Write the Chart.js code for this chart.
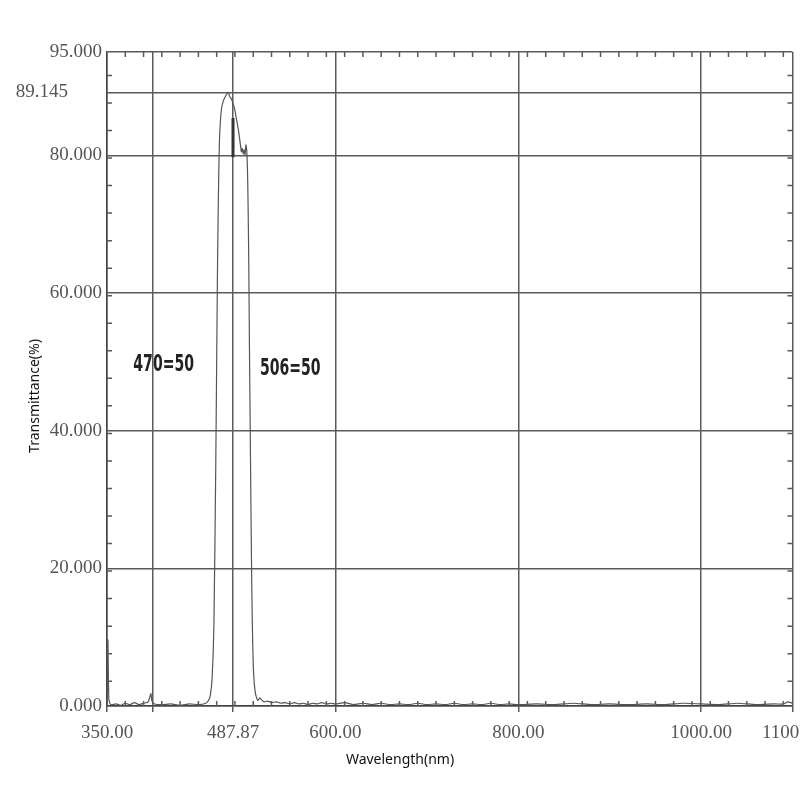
<!DOCTYPE html>
<html>
<head>
<meta charset="utf-8">
<script src="https://cdn.jsdelivr.net/npm/chart.js@4"></script>
<style>
  html, body { margin: 0; padding: 0; background: #fff; overflow: hidden; }
  #wrap { width: 800px; height: 800px; overflow: hidden; }
</style>
</head>
<body>
<div id="wrap"><canvas id="spec" width="833" height="800"></canvas></div>
<script>
// spectrum
const wavelength = [350, 351, 352, 354, 360, 365, 370, 375, 380, 385, 390, 395, 398, 399, 402, 410, 420, 430, 440, 450, 458, 461, 463,
  465, 467, 469, 470, 471, 472, 473, 475, 477, 479, 481, 483, 484, 486, 488, 490, 492, 494, 496, 497, 498, 499, 500, 501, 502, 503,
  504, 505, 506, 507, 508, 509, 510, 511, 512, 513, 515, 517, 519, 522, 526, 530, 535, 540, 545, 550, 555, 560, 565, 570, 575, 580,
  585, 590, 595, 600, 610, 620, 630, 640, 650, 660, 670, 680, 690, 700, 710, 720, 730, 740, 750, 760, 770, 780, 790, 800, 820, 840,
  860, 880, 900, 920, 940, 960, 980, 1000, 1020, 1040, 1060, 1080, 1090, 1095, 1100];
const transmittance = [0.2, 9.6, 1.0, 0.2, 0.3, 0.1, 0.4, 0.2, 0.5, 0.2, 0.4, 0.6, 1.8, 0.8, 0.3, 0.2, 0.3, 0.1, 0.3, 0.2, 0.4, 0.8, 1.5,
  4, 12, 35, 50, 65, 75, 82, 86.5, 87.8, 88.4, 88.9, 89.145, 88.6, 88.2, 87.5, 86.5, 85, 83.5, 81.5, 80.5, 81, 80.2, 80.8, 80.1, 81.5, 80.5,
  76, 66, 50, 36, 22, 12, 6, 3.5, 2.2, 1.5, 0.8, 1.2, 0.9, 0.6, 0.7, 0.5, 0.6, 0.4, 0.5, 0.3, 0.5, 0.3, 0.4, 0.2, 0.4, 0.3,
  0.5, 0.3, 0.4, 0.3, 0.5, 0.2, 0.4, 0.2, 0.4, 0.2, 0.3, 0.2, 0.4, 0.2, 0.3, 0.2, 0.4, 0.2, 0.3, 0.2, 0.4, 0.2, 0.3, 0.2, 0.3, 0.2,
  0.4, 0.2, 0.3, 0.2, 0.3, 0.2, 0.4, 0.3, 0.2, 0.4, 0.2, 0.3, 0.3, 0.6, 0.4];

// cursor mark near the peak
const cursorX = [487.87, 487.87];
const cursorY = [85.4, 79.7];

const xTicks = [350, 400, 487.87, 600, 800, 1000, 1100];
const xTickLabels = ['350.00', '', '487.87', '600.00', '800.00', '1000.00', '1100.00'];
const yTicks = [0, 20, 40, 60, 80, 89.145, 95];
const yTickLabels = ['0.000', '20.000', '40.000', '60.000', '80.000', '89.145', '95.000'];

const notes = [
  { text: '470=50', x: 412, y: 49.6 },
  { text: '506=50', x: 550.5, y: 49.0 }
];

const gridCol = '#5a5a5a';
const tickFont = { family: '"Liberation Serif", serif', size: 19 };

const extras = {
  id: 'extras',
  afterDraw(chart) {
    const { ctx, chartArea: a, scales: { x, y } } = chart;
    ctx.save();
    // small inside ticks
    ctx.strokeStyle = gridCol;
    ctx.lineWidth = 1.5;
    ctx.beginPath();
    for (let v = 370; v < 1100; v += 20) {
      const px = x.getPixelForValue(v);
      ctx.moveTo(px, a.top); ctx.lineTo(px, a.top + 5);
      ctx.moveTo(px, a.bottom); ctx.lineTo(px, a.bottom - 5);
    }
    for (let v = 3.6; v < 95; v += 4) {
      const py = y.getPixelForValue(v);
      ctx.moveTo(a.left, py); ctx.lineTo(a.left + 5, py);
      ctx.moveTo(a.right, py); ctx.lineTo(a.right - 5, py);
    }
    ctx.stroke();

    // peak label sits further left than the others
    ctx.fillStyle = '#555';
    ctx.font = '19px "Liberation Serif", serif';
    ctx.textAlign = 'right';
    ctx.textBaseline = 'middle';
    ctx.fillText(yTickLabels[5], 68, y.getPixelForValue(yTicks[5]));

    // band edge notes, squeezed like the instrument font
    ctx.fillStyle = '#222';
    ctx.font = 'bold 23px "DejaVu Sans Condensed", "DejaVu Sans", sans-serif';
    ctx.textAlign = 'center';
    notes.forEach(n => {
      ctx.save();
      ctx.translate(x.getPixelForValue(n.x), y.getPixelForValue(n.y));
      ctx.scale(0.68, 1);
      ctx.fillText(n.text, 0, 0);
      ctx.restore();
    });

    // axis titles
    ctx.fillStyle = '#111';
    ctx.font = '14px "Noto Sans", sans-serif';
    ctx.fillText('Wavelength(nm)', 400, 760);
    ctx.translate(35, 396);
    ctx.rotate(-Math.PI / 2);
    ctx.fillText('Transmittance(%)', 0, 0);
    ctx.restore();
  }
};

new Chart(document.getElementById('spec'), {
  type: 'line',
  data: {
    datasets: [{
      data: wavelength.map((w, i) => ({ x: w, y: transmittance[i] })),
      borderColor: '#555',
      borderWidth: 1.2,
      pointRadius: 0,
      tension: 0.2
    }, {
      data: cursorX.map((w, i) => ({ x: w, y: cursorY[i] })),
      borderColor: '#333',
      borderWidth: 3,
      pointRadius: 0
    }]
  },
  options: {
    responsive: false,
    animation: false,
    layout: { padding: { top: 52, right: 35, left: 0, bottom: 0 } },
    plugins: { legend: { display: false }, tooltip: { enabled: false } },
    scales: {
      x: {
        type: 'linear',
        min: 350,
        max: 1100,
        afterBuildTicks: s => { s.ticks = xTicks.map(v => ({ value: v })); },
        afterFit: s => { s.height = 94; },
        grid: { color: gridCol, lineWidth: 1.5, tickLength: 6, tickColor: gridCol },
        border: { color: '#444', width: 1.5 },
        ticks: {
          autoSkip: false,
          maxRotation: 0,
          padding: 10,
          color: '#555',
          font: tickFont,
          callback: (v, i) => xTickLabels[i]
        }
      },
      y: {
        min: 0,
        max: 95,
        afterBuildTicks: s => { s.ticks = yTicks.map(v => ({ value: v })); },
        afterFit: s => { s.width = 107; },
        grid: { color: gridCol, lineWidth: 1.5, drawTicks: false },
        border: { color: '#444', width: 1.5 },
        ticks: {
          autoSkip: false,
          padding: 5,
          color: '#555',
          font: tickFont,
          callback: (v, i) => (i === 5 ? '' : yTickLabels[i])
        }
      }
    }
  },
  plugins: [extras]
});
</script>
</body>
</html>
